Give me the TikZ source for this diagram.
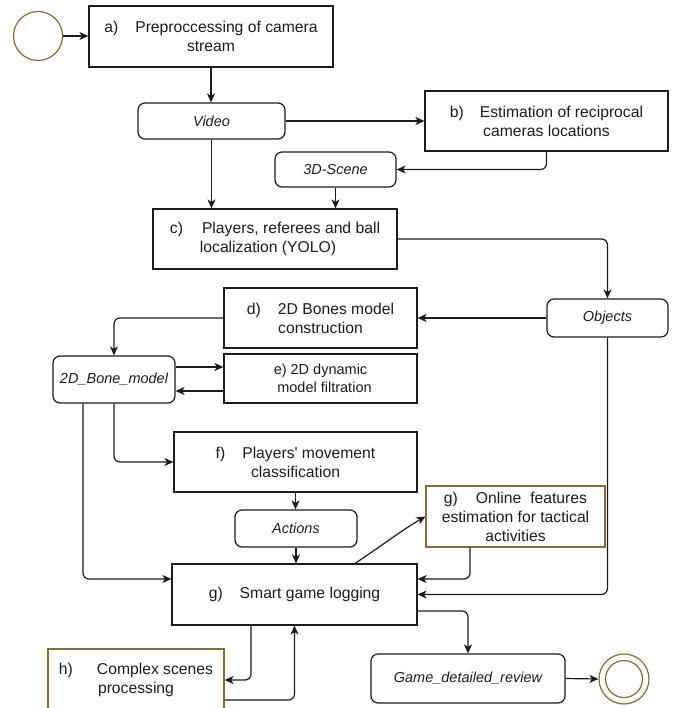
\documentclass[tikz,border=0pt]{standalone}
\usepackage{fontspec}
\setmainfont{Liberation Sans}
\usetikzlibrary{arrows.meta}
\definecolor{brn}{RGB}{140,106,50}
\definecolor{ink}{RGB}{28,28,28}
\tikzset{
  box/.style={draw=ink, line width=1.2pt, inner sep=0pt, align=center, text=ink,
    font=\fontsize{15.7}{19}\selectfont},
  smallbox/.style={box, font=\fontsize{14.5}{18.5}\selectfont},
  brnbox/.style={box, draw=brn},
  data/.style={draw=ink, line width=1.2pt, inner sep=0pt, rounded corners=7pt, text=ink,
    font=\fontsize{14.5}{17}\selectfont\itshape},
  ring/.style={circle, draw=brn, line width=1.2pt, inner sep=0pt},
  arr/.style={draw=ink, line width=1.2pt, rounded corners=6pt,
    -{Stealth[length=9pt,width=8pt,inset=2.5pt]}},
}
\begin{document}
\begin{tikzpicture}[x=1pt,y=-1pt]
\useasboundingbox (0,0) rectangle (673,708);
\clip (0,0) rectangle (673,708);
% start / end
\node[ring, minimum size=49pt] (start) at (38,36) {};
\node[ring, minimum size=50pt] (end) at (624,679) {};
\node[ring, minimum size=37pt] (endin) at (624,679) {};
% process boxes
\node[box, minimum width=244pt, minimum height=61pt] (a) at (211,36.5)
  {a)\hspace{17pt}Preproccessing of camera\\stream};
\node[box, minimum width=243pt, minimum height=60pt] (b) at (546.5,121)
  {b)\hspace{16pt}Estimation of reciprocal\\cameras locations};
\node[box, minimum width=244pt, minimum height=60pt] (c) at (275,239)
  {c)\hspace{19pt}Players, referees and ball\\localization (YOLO)\hspace{14pt}\mbox{}};
\node[box, minimum width=193pt, minimum height=60pt] (d) at (320.5,318)
  {d)\hspace{17pt}2D Bones model\\construction};
\node[smallbox, minimum width=193pt, minimum height=49pt] (e) at (320.5,378.5)
  {e) 2D dynamic\\\hspace{8pt}model filtration};
\node[box, minimum width=243pt, minimum height=60pt] (f) at (295.5,462)
  {f)\hspace{17pt}Players\textquotesingle{} movement\\classification};
\node[box, minimum width=245pt, minimum height=61pt] (g) at (294.5,594.5)
  {g)\hspace{17pt}Smart game logging};
\node[brnbox, minimum width=179pt, minimum height=61pt] (on) at (515.5,516.5)
  {g)\hspace{18pt}Online\hspace{9pt}features\\estimation for tactical\\activities};
\node[brnbox, minimum width=176pt, minimum height=62pt] (h) at (136,680)
  {h)\hspace{24pt}Complex scenes\\processing};
% data nodes
\node[data, minimum width=147pt, minimum height=36pt] (video) at (211.5,121) {Video};
\node[data, minimum width=121pt, minimum height=35pt] (scene) at (335.5,169.5) {3D-Scene};
\node[data, minimum width=121pt, minimum height=38pt] (obj) at (607.5,318) {Objects};
\node[data, minimum width=122pt, minimum height=47pt] (bone) at (114,379.5) {2D\_Bone\_model};
\node[data, minimum width=122pt, minimum height=37pt] (act) at (296,528.5) {Actions};
\node[data, minimum width=194pt, minimum height=49pt] (rev) at (468,678.5) {Game\_detailed\_review};
% connectors
\draw[arr] (start.east) -- (a.west |- start.east);
\draw[arr] (a.south) -- (a.south |- video.north);
\draw[arr] (video.east) -- (b.west |- video.east);
\draw[arr] (b.south) |- (scene.east);
\draw[arr] (video.south) -- (video.south |- c.north);
\draw[arr] (scene.south) -- (scene.south |- c.north);
\draw[arr] (c.east) -| (obj.north);
\draw[arr] (obj.west) -- (d.east |- obj.west);
\draw[arr] (d.west) -| (bone.north);
\draw[arr] (bone.east |- 0,367) -- (e.west |- 0,367);
\draw[arr] (e.west |- 0,391) -- (bone.east |- 0,391);
\draw[arr] (bone.south) |- (f.west);
\draw[arr] (bone.south -| 83,0) |- (g.west |- 0,579);
\draw[arr] (f.south) -- (f.south |- act.north);
\draw[arr] (act.south) -- (act.south |- g.north);
\draw[arr] (g.north -| 355,0) .. controls (380,547) and (402,530) .. (on.west);
\draw[arr] (on.south -| 470,0) |- (g.east |- 0,579);
\draw[arr] (obj.south) |- (g.east);
\draw[arr] (g.east |- 0,611) -| (rev.north);
\draw[arr] (rev.east) -- (end.west);
\draw[arr] (g.south -| 251,0) |- (h.east);
\draw[arr] (h.east |- 0,700) -| (g.south);
\end{tikzpicture}
\end{document}
